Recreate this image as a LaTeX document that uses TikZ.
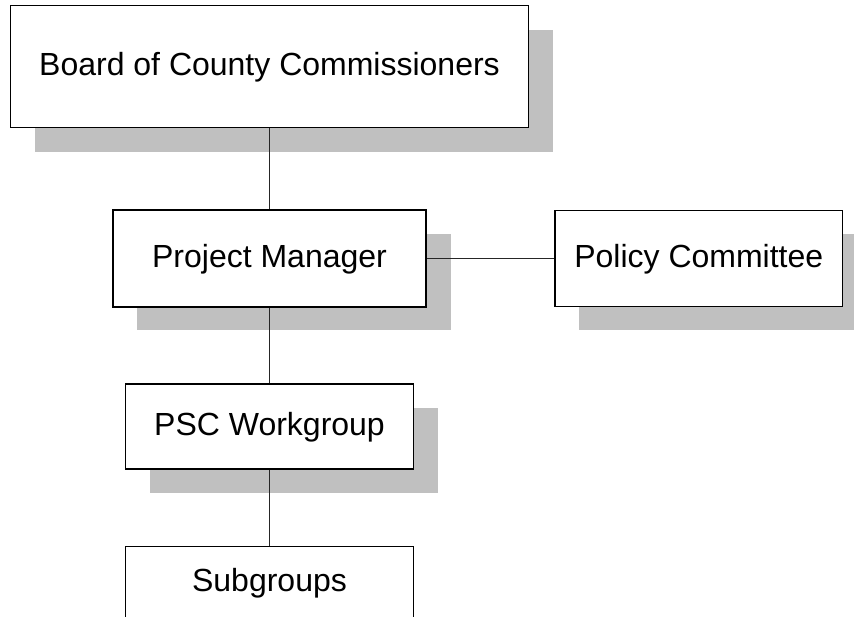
\documentclass[tikz,border=0pt]{standalone}
\usepackage{fontspec}
\setmainfont{Liberation Sans}
\definecolor{shadowgray}{RGB}{192,192,192}
\tikzset{
  orgbox/.style={draw=black, line width=1.5pt, fill=white, inner sep=0pt,
    font=\fontsize{32}{38}\selectfont, text=black, text height=18.6pt, text depth=0pt},
  shadowbox/.style={fill=shadowgray, draw=none},
  link/.style={draw=black!85, line width=0.9pt}
}
\begin{document}
\begin{tikzpicture}[x=1pt,y=-1pt]
\useasboundingbox (0,0) rectangle (854,617);
\clip (0,0) rectangle (854,617);
% shadows
\fill[shadowbox] (34.7,29.7) rectangle (552.5,152.5);
\fill[shadowbox] (137,234) rectangle (450.5,330.5);
\fill[shadowbox] (579,234.5) rectangle (866.7,330.5);
\fill[shadowbox] (149.5,408.3) rectangle (437.5,493.3);
% boxes
\node[orgbox, minimum width=517.6pt, minimum height=122pt] (board) at (269.5,66.7) {Board of County Commissioners};
\node[orgbox, minimum width=313pt, minimum height=96.7pt] (pm) at (269.5,258.5) {Project Manager};
\node[orgbox, minimum width=287.7pt, minimum height=95.7pt] (policy) at (698.8,258.5) {Policy Committee};
\node[orgbox, minimum width=287.6pt, minimum height=85pt] (psc) at (269.5,426.5) {PSC Workgroup};
\node[orgbox, minimum width=287.6pt, minimum height=100pt] (sub) at (269.5,596.7) {};
\node[font=\fontsize{32}{38}\selectfont, anchor=base, inner sep=0pt] (subtext) at (269.5,591.7) {Subgroups};
% connectors
\draw[link] (board.south) -- (pm.north);
\draw[link] (pm.south) -- (psc.north);
\draw[link] (psc.south) -- (sub.north);
\draw[link] (pm.east) -- (policy.west);
\end{tikzpicture}
\end{document}
